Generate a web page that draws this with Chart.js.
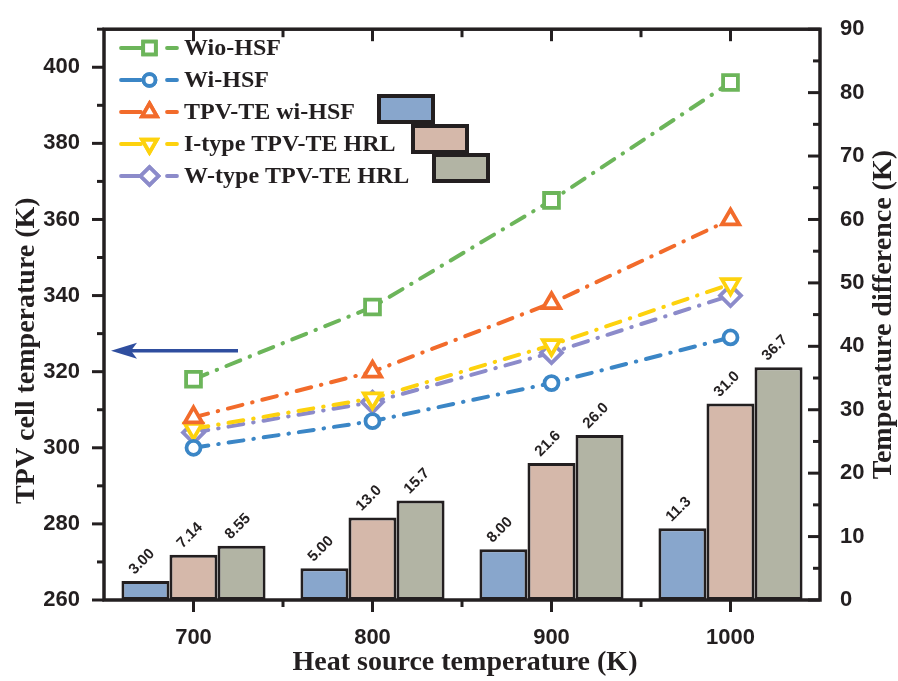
<!DOCTYPE html>
<html>
<head>
<meta charset="utf-8">
<script src="https://cdn.jsdelivr.net/npm/chart.js@4.4.1/dist/chart.umd.min.js"></script>
<style>
  html, body { margin: 0; padding: 0; background: #fff; }
  #wrap { width: 898px; height: 681px; }
</style>
</head>
<body>
<div id="wrap"><canvas id="tpvChart" width="898" height="681"></canvas></div>
<script>
const heatSource = ['700', '800', '900', '1000'];

// TPV cell temperature (K), left axis
const wioHSF = [318, 337, 365, 396];
const wiHSF = [300, 307, 317, 329];
const tpvteWiHSF = [308, 320, 338, 360];
const iTypeHRL = [305, 313, 327, 343];
const wTypeHRL = [304, 312, 325, 340];

// temperature difference (K), right axis
const diffTpvte = [3.00, 5.00, 8.00, 11.3];
const diffIType = [7.14, 13.0, 21.6, 31.0];
const diffWType = [8.55, 15.7, 26.0, 36.7];

const leftTicks = [260, 280, 300, 320, 340, 360, 380, 400];
const rightTicks = [0, 10, 20, 30, 40, 50, 60, 70, 80, 90];

const ink = '#231f20';
const tickFont = { family: "'Liberation Sans', Arial, sans-serif", size: 22, weight: 'bold' };
const serifBold = "bold 28px 'Liberation Serif', 'Times New Roman', serif";

function lineSet(label, data, color, style, radius, rotation) {
    return {
        type: 'line', label: label, data: data, yAxisID: 'y', order: 0,
        borderColor: color, borderWidth: 4,
        borderDash: [15, 10, 0.5, 10], borderCapStyle: 'round',
        pointStyle: style, pointRadius: radius, pointRotation: rotation || 0,
        pointBackgroundColor: '#fff', pointBorderColor: color, pointBorderWidth: 3.8,
        tension: 0
    };
}

function barSet(label, data, color) {
    return {
        type: 'bar', label: label, data: data, yAxisID: 'y1', order: 1,
        backgroundColor: color, borderColor: ink, borderWidth: 3, borderSkipped: false,
        barPercentage: 1, categoryPercentage: 0.805
    };
}

// axis frame, tick marks, value labels, arrow, legend and titles
const decorations = {
    id: 'decorations',
    afterDatasetsDraw(chart) {
        const ctx = chart.ctx;
        const area = chart.chartArea;
        const xs = chart.scales.x, ys = chart.scales.y, y1 = chart.scales.y1;
        ctx.save();

        // bar value labels, rotated
        ctx.fillStyle = ink;
        ctx.font = "bold 15px 'Liberation Sans', Arial, sans-serif";
        ctx.textAlign = 'left';
        ctx.textBaseline = 'alphabetic';
        chart.data.datasets.forEach((ds, di) => {
            if (ds.type !== 'bar') return;
            chart.getDatasetMeta(di).data.forEach((bar, i) => {
                ctx.save();
                ctx.translate(bar.x - 11, bar.y - 6);
                ctx.rotate(-Math.PI / 4);
                ctx.fillText(ds.data[i].toPrecision(3), 0, 0);
                ctx.restore();
            });
        });

        // frame
        ctx.strokeStyle = ink;
        ctx.lineWidth = 3.5;
        ctx.strokeRect(area.left, area.top, area.right - area.left, area.bottom - area.top);

        ctx.lineWidth = 3;
        ctx.lineCap = 'butt';
        function tick(x0, y0, x1, y1p) {
            ctx.beginPath(); ctx.moveTo(x0, y0); ctx.lineTo(x1, y1p); ctx.stroke();
        }
        for (let v = 260; v <= 410; v += 10) {
            const y = ys.getPixelForValue(v);
            tick(area.left, y, area.left - (v % 20 === 0 ? 12 : 7), y);
        }
        for (let v = 0; v <= 90; v += 5) {
            const y = y1.getPixelForValue(v);
            tick(area.right, y, area.right - (v % 10 === 0 ? 12 : 7), y);
        }
        heatSource.forEach((c, i) => {
            const x = xs.getPixelForValue(i);
            tick(x, area.bottom, x, area.bottom + 12);
            tick(x, area.top, x, area.top + 12);
            if (i > 0) {
                const xb = xs.getPixelForValue(i - 0.5);
                tick(xb, area.bottom, xb, area.bottom + 7);
                tick(xb, area.top, xb, area.top + 8);
            }
        });

        // arrow pointing to the left axis
        const arrowY = ys.getPixelForValue(325.5);
        ctx.strokeStyle = '#2f4e9f';
        ctx.fillStyle = '#2f4e9f';
        ctx.lineWidth = 3.5;
        tick(238, arrowY, 125, arrowY);
        ctx.beginPath();
        ctx.moveTo(111, arrowY);
        ctx.lineTo(137, arrowY - 8);
        ctx.lineTo(131, arrowY);
        ctx.lineTo(137, arrowY + 8);
        ctx.closePath();
        ctx.fill();

        // legend
        const lines = chart.data.datasets.filter(d => d.type === 'line');
        const bars = chart.data.datasets.filter(d => d.type === 'bar');
        ctx.font = "bold 24px 'Liberation Serif', 'Times New Roman', serif";
        ctx.textBaseline = 'middle';
        ctx.textAlign = 'left';
        lines.forEach((d, i) => {
            const y = 48 + i * 32;
            ctx.strokeStyle = d.borderColor;
            ctx.lineWidth = 3.8;
            ctx.lineCap = 'round';
            tick(121, y, 141, y);
            tick(167, y, 177, y);
            Chart.helpers.drawPoint(ctx, {
                pointStyle: d.pointStyle, rotation: d.pointRotation,
                radius: d.pointRadius * 0.85, borderWidth: 3.8
            }, 149.5, y);
            ctx.fillStyle = '#fff';
            ctx.fill();
            ctx.stroke();
            ctx.fillStyle = ink;
            ctx.fillText(d.label, 184, y + 1);
        });
        const boxes = [[379, 96], [413, 126], [434, 155]];
        ctx.lineCap = 'butt';
        bars.forEach((d, i) => {
            ctx.fillStyle = d.backgroundColor;
            ctx.fillRect(boxes[i][0], boxes[i][1], 54, 26);
            ctx.strokeStyle = ink;
            ctx.lineWidth = 4;
            ctx.strokeRect(boxes[i][0], boxes[i][1], 54, 26);
        });

        // axis titles
        ctx.fillStyle = ink;
        ctx.font = serifBold;
        ctx.textAlign = 'center';
        ctx.textBaseline = 'middle';
        ctx.fillText('Heat source temperature (K)', (area.left + area.right) / 2 + 3, 663);
        ctx.save();
        ctx.translate(27, (area.top + area.bottom) / 2 + 36);
        ctx.rotate(-Math.PI / 2);
        ctx.fillText('TPV cell temperature (K)', 0, 0);
        ctx.restore();
        ctx.save();
        ctx.translate(884, (area.top + area.bottom) / 2);
        ctx.rotate(-Math.PI / 2);
        ctx.fillText('Temperature difference (K)', 0, 0);
        ctx.restore();

        ctx.restore();
    }
};

const chart = new Chart(document.getElementById('tpvChart'), {
    data: {
        labels: heatSource,
        datasets: [
            barSet('TPV-TE wi-HSF', diffTpvte, '#88a6cc'),
            barSet('I-type TPV-TE HRL', diffIType, '#d5b8aa'),
            barSet('W-type TPV-TE HRL', diffWType, '#b2b4a4'),
            lineSet('Wio-HSF', wioHSF, '#6cb55a', 'rect', 10.5),
            lineSet('Wi-HSF', wiHSF, '#3b86c6', 'circle', 7),
            lineSet('TPV-TE wi-HSF', tpvteWiHSF, '#f26b2b', 'triangle', 10),
            lineSet('I-type TPV-TE HRL', iTypeHRL, '#fdd20e', 'triangle', 10, 180),
            lineSet('W-type TPV-TE HRL', wTypeHRL, '#8c8bca', 'rectRot', 10.5)
        ]
    },
    options: {
        responsive: false,
        animation: false,
        devicePixelRatio: 1,
        layout: { padding: { top: 24, left: 0, right: 0, bottom: 0 } },
        plugins: {
            legend: { display: false },
            tooltip: { enabled: false }
        },
        scales: {
            x: {
                type: 'category', offset: true,
                grid: { display: false }, border: { display: false },
                ticks: { font: tickFont, color: ink, padding: 17, maxRotation: 0 },
                afterFit(s) { s.height = 81; }
            },
            y: {
                position: 'left', min: 260, max: 410,
                afterBuildTicks(s) { s.ticks = leftTicks.map(v => ({ value: v })); },
                grid: { display: false }, border: { display: false },
                ticks: { font: tickFont, color: ink, padding: 16 },
                afterFit(s) { s.width = 104; }
            },
            y1: {
                position: 'right', min: 0, max: 90,
                afterBuildTicks(s) { s.ticks = rightTicks.map(v => ({ value: v })); },
                grid: { display: false }, border: { display: false },
                ticks: { font: tickFont, color: ink, padding: 12 },
                afterFit(s) { s.width = 78; }
            }
        }
    },
    plugins: [decorations]
});
</script>
</body>
</html>
